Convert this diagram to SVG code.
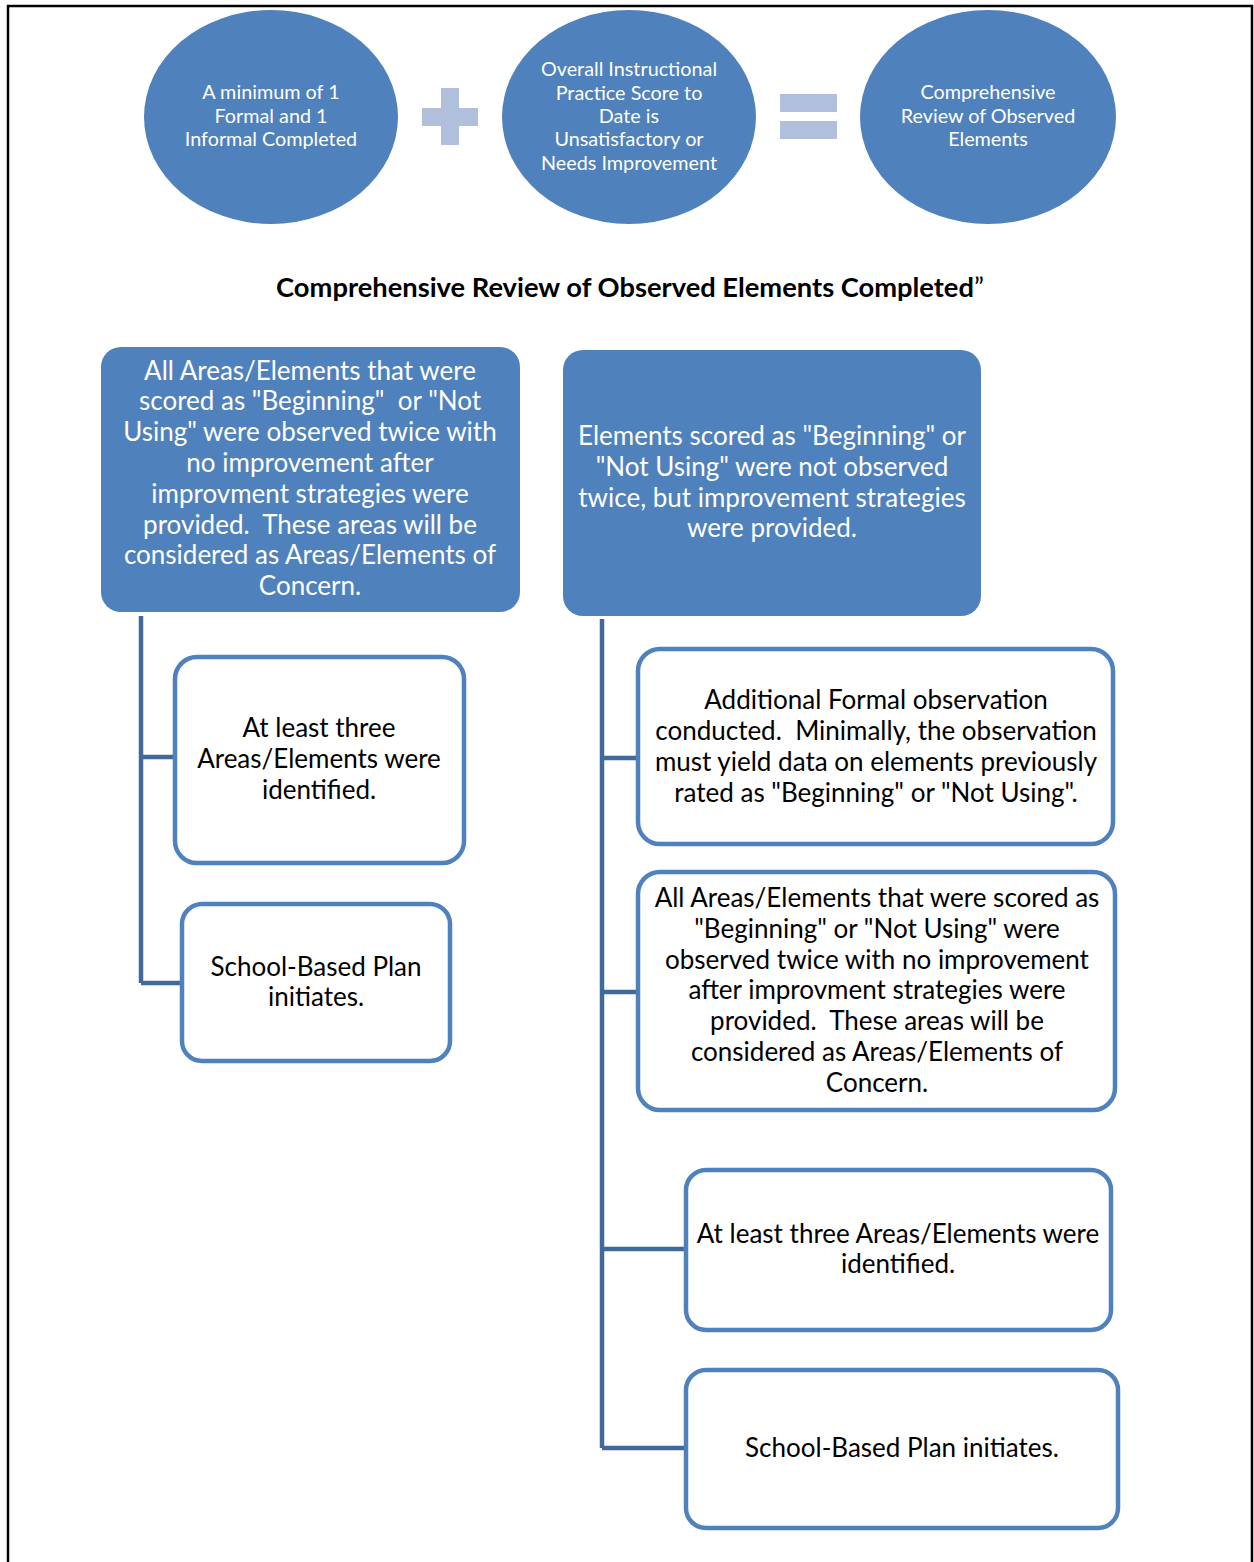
<svg xmlns="http://www.w3.org/2000/svg" width="1254" height="1562" viewBox="0 0 1254 1562">
<style>
.page{fill:none;stroke:#000;stroke-width:2.5}
.oval{fill:#4F81BD}
.op{fill:#B0C0DC}
.solid{fill:#4F81BD}
.out{fill:#fff;stroke:#4F81BD;stroke-width:4.5}
.conn{fill:none;stroke:#41699C;stroke-width:4.5}
text{font-family:Lato,"Liberation Sans",sans-serif;text-anchor:middle;white-space:pre}
.ot{fill:#fff;font-size:19.8px}
.wt{fill:#fff;font-size:26px}
.bt{fill:#000;font-size:26px}
.title{fill:#000;font-size:27.3px;font-weight:bold}
</style>
<rect width="1254" height="1562" fill="#fff"/>
<path class="page" d="M8,1562 V6 H1252 V1562"/>

<g id="oval1">
<ellipse class="oval" cx="271" cy="117" rx="127" ry="107"/>
<text class="ot" x="271" y="99">A minimum of 1</text>
<text class="ot" x="271" y="123">Formal and 1</text>
<text class="ot" x="271" y="146">Informal Completed</text>
</g>
<g id="plus">
<rect class="op" x="441" y="88" width="18" height="57"/>
<rect class="op" x="422" y="108" width="56" height="18"/>
</g>
<g id="oval2">
<ellipse class="oval" cx="629" cy="117" rx="127" ry="107"/>
<text class="ot" x="629" y="76">Overall Instructional</text>
<text class="ot" x="629" y="100">Practice Score to</text>
<text class="ot" x="629" y="123">Date is</text>
<text class="ot" x="629" y="146">Unsatisfactory or</text>
<text class="ot" x="629" y="170">Needs Improvement</text>
</g>
<g id="equals">
<rect class="op" x="780" y="94" width="57" height="18"/>
<rect class="op" x="780" y="121" width="57" height="18"/>
</g>
<g id="oval3">
<ellipse class="oval" cx="988" cy="117" rx="128" ry="107"/>
<text class="ot" x="988" y="99">Comprehensive</text>
<text class="ot" x="988" y="123">Review of Observed</text>
<text class="ot" x="988" y="146">Elements</text>
</g>

<g id="title">
<text class="title" x="630" y="297">Comprehensive Review of Observed Elements Completed<tspan font-weight="normal">”</tspan></text>
</g>

<g id="connectors">
<path class="conn" d="M141,616 V983 M141,757 H175 M141,983 H182"/>
<path class="conn" d="M602,619 V1448 M602,758 H638 M602,992 H638 M602,1249 H686 M602,1448 H686"/>
</g>

<g id="leftHead">
<rect class="solid" x="101" y="347" width="419" height="265" rx="20"/>
<text class="wt" x="310" y="380">All Areas/Elements that were</text>
<text class="wt" x="310" y="410">scored as "Beginning"  or "Not</text>
<text class="wt" x="310" y="441">Using" were observed twice with</text>
<text class="wt" x="310" y="472">no improvement after</text>
<text class="wt" x="310" y="503">improvment strategies were</text>
<text class="wt" x="310" y="534">provided.  These areas will be</text>
<text class="wt" x="310" y="564">considered as Areas/Elements of</text>
<text class="wt" x="310" y="595">Concern.</text>
</g>

<g id="rightHead">
<rect class="solid" x="563" y="350" width="418" height="266" rx="20"/>
<text class="wt" x="772" y="445">Elements scored as "Beginning" or</text>
<text class="wt" x="772" y="476">"Not Using" were not observed</text>
<text class="wt" x="772" y="507">twice, but improvement strategies</text>
<text class="wt" x="772" y="537">were provided.</text>
</g>

<g id="left1">
<rect class="out" x="175" y="657" width="289" height="206" rx="22"/>
<text class="bt" x="319" y="737">At least three</text>
<text class="bt" x="319" y="768">Areas/Elements were</text>
<text class="bt" x="319" y="799">identified.</text>
</g>
<g id="left2">
<rect class="out" x="182" y="904" width="268" height="157" rx="20"/>
<text class="bt" x="316" y="976">School-Based Plan</text>
<text class="bt" x="316" y="1006">initiates.</text>
</g>

<g id="right1">
<rect class="out" x="638" y="649" width="475" height="195" rx="22"/>
<text class="bt" x="876" y="709">Additional Formal observation</text>
<text class="bt" x="876" y="740">conducted.  Minimally, the observation</text>
<text class="bt" x="876" y="771">must yield data on elements previously</text>
<text class="bt" x="876" y="802">rated as "Beginning" or "Not Using".</text>
</g>
<g id="right2">
<rect class="out" x="638" y="872" width="477" height="238" rx="22"/>
<text class="bt" x="877" y="907">All Areas/Elements that were scored as</text>
<text class="bt" x="877" y="938">"Beginning" or "Not Using" were</text>
<text class="bt" x="877" y="969">observed twice with no improvement</text>
<text class="bt" x="877" y="999">after improvment strategies were</text>
<text class="bt" x="877" y="1030">provided.  These areas will be</text>
<text class="bt" x="877" y="1061">considered as Areas/Elements of</text>
<text class="bt" x="877" y="1092">Concern.</text>
</g>
<g id="right3">
<rect class="out" x="686" y="1170" width="425" height="160" rx="20"/>
<text class="bt" x="898" y="1243">At least three Areas/Elements were</text>
<text class="bt" x="898" y="1273">identified.</text>
</g>
<g id="right4">
<rect class="out" x="686" y="1370" width="432" height="158" rx="20"/>
<text class="bt" x="902" y="1457">School-Based Plan initiates.</text>
</g>
</svg>
